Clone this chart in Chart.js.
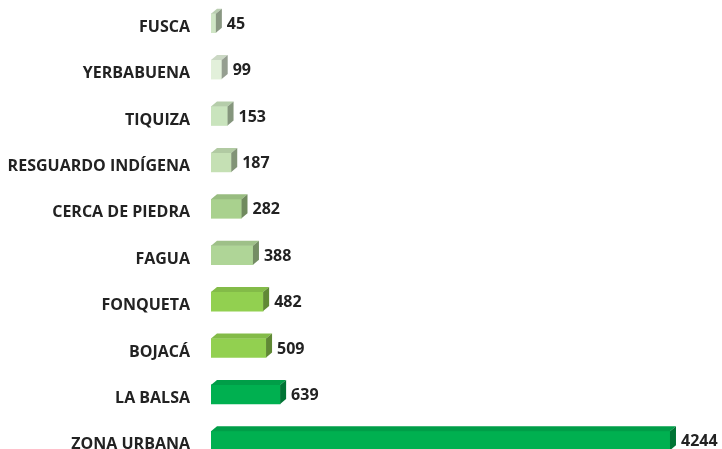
<!DOCTYPE html>
<html>
<head>
<meta charset="utf-8">
<script src="https://cdn.jsdelivr.net/npm/chart.js@4/dist/chart.umd.min.js"></script>
<style>
  html, body { margin: 0; padding: 0; background: #ffffff; overflow: hidden; }
  #wrap { width: 722px; height: 464px; position: relative; }
</style>
</head>
<body>
<div id="wrap"><canvas id="c"></canvas></div>
<script>
// Population by locality (sector)
const categories = ['FUSCA', 'YERBABUENA', 'TIQUIZA', 'RESGUARDO INDÍGENA', 'CERCA DE PIEDRA',
                    'FAGUA', 'FONQUETA', 'BOJACÁ', 'LA BALSA', 'ZONA URBANA'];
const values = [45, 99, 153, 187, 282, 388, 482, 509, 639, 4244];
const barColors = ['#cfe5c5', '#e2f0da', '#c9e4bd', '#c5e0b4', '#a9d18e',
                   '#afd597', '#92d050', '#92d050', '#00b050', '#00b050'];

const FONT_FAMILY = '"Open Sans", "DejaVu Sans", sans-serif';
const LABEL_FONT = 'bold 16px ' + FONT_FAMILY;
const TEXT_COLOR = '#222222';
const DEPTH_X = 6, DEPTH_Y = 5;

function shade(hex, f) {
  const n = parseInt(hex.slice(1), 16);
  const r = Math.round(((n >> 16) & 255) * f);
  const g = Math.round(((n >> 8) & 255) * f);
  const b = Math.round((n & 255) * f);
  return `rgb(${r},${g},${b})`;
}

// Draws the top and side faces of each bar for the extruded look, plus the value label.
const extrudePlugin = {
  id: 'extrude',
  afterDatasetsDraw(chart) {
    const ctx = chart.ctx;
    const meta = chart.getDatasetMeta(0);
    ctx.save();
    meta.data.forEach((el, i) => {
      const p = el.getProps(['x', 'y', 'base', 'height'], true);
      const left = Math.min(p.base, p.x), right = Math.max(p.base, p.x);
      const top = p.y - p.height / 2, bottom = p.y + p.height / 2;
      const c = barColors[i];
      // top face
      ctx.fillStyle = shade(c, 0.9);
      ctx.beginPath();
      ctx.moveTo(left, top);
      ctx.lineTo(left + DEPTH_X, top - DEPTH_Y);
      ctx.lineTo(right + DEPTH_X, top - DEPTH_Y);
      ctx.lineTo(right, top);
      ctx.closePath();
      ctx.fill();
      // side face
      ctx.fillStyle = shade(c, 0.66);
      ctx.beginPath();
      ctx.moveTo(right, top);
      ctx.lineTo(right + DEPTH_X, top - DEPTH_Y);
      ctx.lineTo(right + DEPTH_X, bottom - DEPTH_Y);
      ctx.lineTo(right, bottom);
      ctx.closePath();
      ctx.fill();
      // value label
      ctx.fillStyle = TEXT_COLOR;
      ctx.font = LABEL_FONT;
      ctx.textAlign = 'left';
      ctx.textBaseline = 'middle';
      ctx.fillText(String(values[i]), right + DEPTH_X + 5, p.y + 1);
    });
    ctx.restore();
  }
};

new Chart(document.getElementById('c'), {
  type: 'bar',
  data: {
    labels: categories,
    datasets: [{
      data: values,
      backgroundColor: barColors,
      borderWidth: 0,
      barThickness: 19
    }]
  },
  options: {
    indexAxis: 'y',
    responsive: true,
    maintainAspectRatio: false,
    animation: false,
    layout: { padding: 0 },
    plugins: { legend: { display: false }, tooltip: { enabled: false } },
    scales: {
      x: { display: false, min: 0, max: 4725 },
      y: {
        afterFit(scale) {
          scale.width = 211;
          scale.paddingTop = 0;
          scale.paddingBottom = 0;
        },
        grid: { display: false, drawTicks: false },
        border: { display: false },
        ticks: {
          color: TEXT_COLOR,
          padding: 21,
          labelOffset: 4,
          font: { family: FONT_FAMILY, size: 16, weight: 'bold' }
        }
      }
    }
  },
  plugins: [extrudePlugin]
});
</script>
</body>
</html>
